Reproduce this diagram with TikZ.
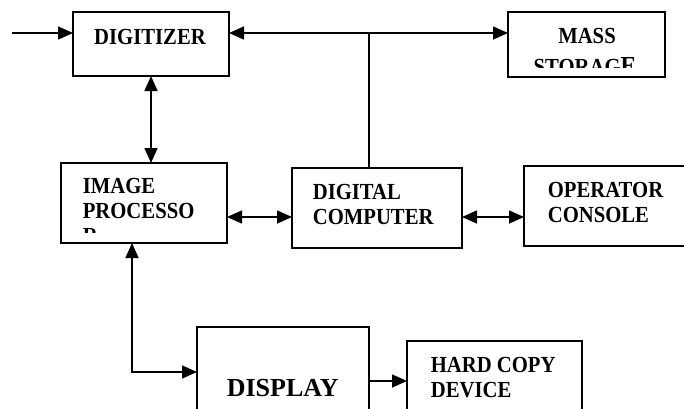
\documentclass[tikz,border=0pt]{standalone}
\usepackage{fontspec}
\setmainfont{Liberation Serif}
\newfontfamily\condserif{Liberation Serif}[FakeStretch=0.9]
\usetikzlibrary{arrows.meta}
\begin{document}
\begin{tikzpicture}[x=1pt, y=-1pt, line width=1.6pt,
  >={Triangle[length=15pt,width=13pt]},
  box/.style={draw, rectangle, inner sep=0pt, outer sep=0pt, anchor=north west},
  lbl/.style={font=\condserif\bfseries\fontsize{23}{25}\selectfont, anchor=base west, inner sep=0pt},
  biglbl/.style={font=\bfseries\fontsize{26}{30}\selectfont, anchor=base west, inner sep=0pt}]
  \useasboundingbox (0,0) rectangle (684,408);
  \clip (0,0) rectangle (684,408);

  % blocks
  \node[box, minimum width=156pt, minimum height=64pt] (dig) at (73,12) {};
  \node[box, minimum width=157pt, minimum height=65pt] (mass) at (508,12) {};
  \node[box, minimum width=166pt, minimum height=80pt] (proc) at (61,163) {};
  \node[box, minimum width=170pt, minimum height=80pt] (comp) at (292,168) {};
  \node[box, minimum width=190pt, minimum height=80pt] (cons) at (524,166) {};
  \node[box, minimum width=172pt, minimum height=100pt] (disp) at (197,327) {};
  \node[box, minimum width=175pt, minimum height=90pt] (hard) at (407,341) {};

  % labels
  \node[lbl, anchor=base] (tdig) at (150,44) {DIGITIZER};
  \node[lbl, anchor=base] (tmass) at (587,43) {MASS};
  \begin{scope}
    \clip (509,12) rectangle (665,67);
    \node[lbl, anchor=base] (tstor) at (585,74) {STORAG{\fontsize{26}{25}\selectfont E}};
  \end{scope}
  \node[lbl] (timg) at (82,193) {IMAGE};
  \node[lbl] (tproc) at (82,218) {PROCESSO};
  \begin{scope}
    \clip (62,164) rectangle (226,232);
    \node[lbl] (tr) at (82,243) {R};
  \end{scope}
  \node[lbl] (tdigital) at (312,199) {DIGITAL};
  \node[lbl] (tcomp) at (312,224) {COMPUTER};
  \node[lbl] (toper) at (547,197) {OPERATOR};
  \node[lbl] (tcons) at (547,222) {CONSOLE};
  \node[biglbl] (tdisp) at (226,396) {DISPLAY};
  \node[lbl] (thard) at (430,372) {HARD COPY};
  \node[lbl] (tdev) at (430,397) {DEVICE};

  % connectors
  \coordinate (in) at (12,33);
  \coordinate (bus) at (369,33);
  \coordinate (bend) at (132,372);
  \draw[->] (in) -- (in -| dig.west);
  \draw[<->] (bus -| dig.east) -- (bus -| mass.west);
  \draw (bus) -- (bus |- comp.north);
  \draw[<->] (dig.south -| 151,0) -- (proc.north -| 151,0);
  \draw[<->] (proc.east |- 0,217) -- (comp.west |- 0,217);
  \draw[<->] (comp.east |- 0,217) -- (cons.west |- 0,217);
  \draw[<->] (proc.south -| bend) -- (bend) -- (bend -| disp.west);
  \draw[->] (disp.east |- 0,381) -- (hard.west |- 0,381);
\end{tikzpicture}
\end{document}
